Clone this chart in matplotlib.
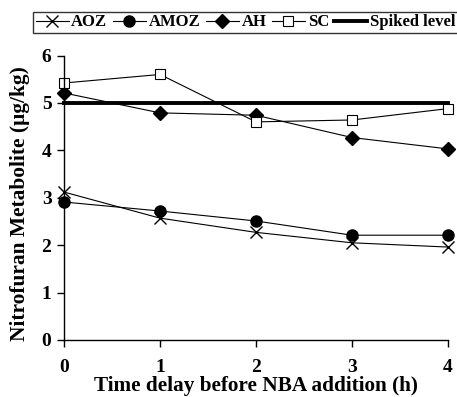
import matplotlib
matplotlib.use("Agg")
import matplotlib.pyplot as plt

x = [0, 1, 2, 3, 4]
aoz = [3.12, 2.57, 2.27, 2.05, 1.96]
amoz = [2.91, 2.72, 2.51, 2.21, 2.21]
ah = [5.21, 4.79, 4.74, 4.27, 4.03]
sc = [5.42, 5.60, 4.60, 4.64, 4.88]
spiked = [5, 5, 5, 5, 5]

plt.rcParams['font.family'] = ['Liberation Serif']
plt.rcParams['font.weight'] = 'bold'

fig = plt.figure(figsize=(4.57, 3.97), dpi=100)
ax = fig.add_axes([64/457, 57/397, 384/457, 284.5/397])

ax.plot(x, aoz, color='black', lw=0.8, marker='x', ms=9, mew=1.0, label='AOZ', clip_on=False)
ax.plot(x, amoz, color='black', lw=0.8, marker='o', ms=8, label='AMOZ', clip_on=False)
ax.plot(x, ah, color='black', lw=0.8, marker='D', ms=7.5, label='AH', clip_on=False)
ax.plot(x, sc, color='black', lw=0.8, marker='s', ms=7.5, mfc='white', mew=0.8, label='SC', clip_on=False)
ax.plot(x, spiked, color='black', lw=2.8, label='Spiked level', clip_on=False)

ax.set_xlim(0, 4)
ax.set_ylim(0, 6)
ax.set_xticks([0, 1, 2, 3, 4])
ax.set_yticks([0, 1, 2, 3, 4, 5, 6])
ax.spines['top'].set_visible(False)
ax.spines['right'].set_visible(False)
for s in ['left', 'bottom']:
    ax.spines[s].set_linewidth(1.0)
ax.tick_params(direction='out', length=5, width=1.0, labelsize=14)
ax.tick_params(axis='x', pad=9)
ax.tick_params(axis='y', pad=4)
for lbl in ax.get_xticklabels() + ax.get_yticklabels():
    lbl.set_fontweight('bold')

ax.set_xlabel('Time delay before NBA addition (h)', fontsize=15.3, fontweight='bold', labelpad=0)
ax.set_ylabel('Nitrofuran Metabolite (\u03bcg/kg)', fontsize=15.4, fontweight='bold')
ax.yaxis.set_label_coords(-0.088, 0.478)

leg = fig.legend(loc='upper left', bbox_to_anchor=(33/457, 1 - 12/397), ncol=5,
                 handlelength=2.0, handletextpad=0.15, columnspacing=0.32,
                 borderpad=0.15, borderaxespad=0, fancybox=False, frameon=True,
                 prop={'family': 'Liberation Serif', 'weight': 'bold', 'size': 12})
leg.get_frame().set_edgecolor('black')
leg.get_frame().set_linewidth(1.0)

fig.savefig('out.png', dpi=100)
